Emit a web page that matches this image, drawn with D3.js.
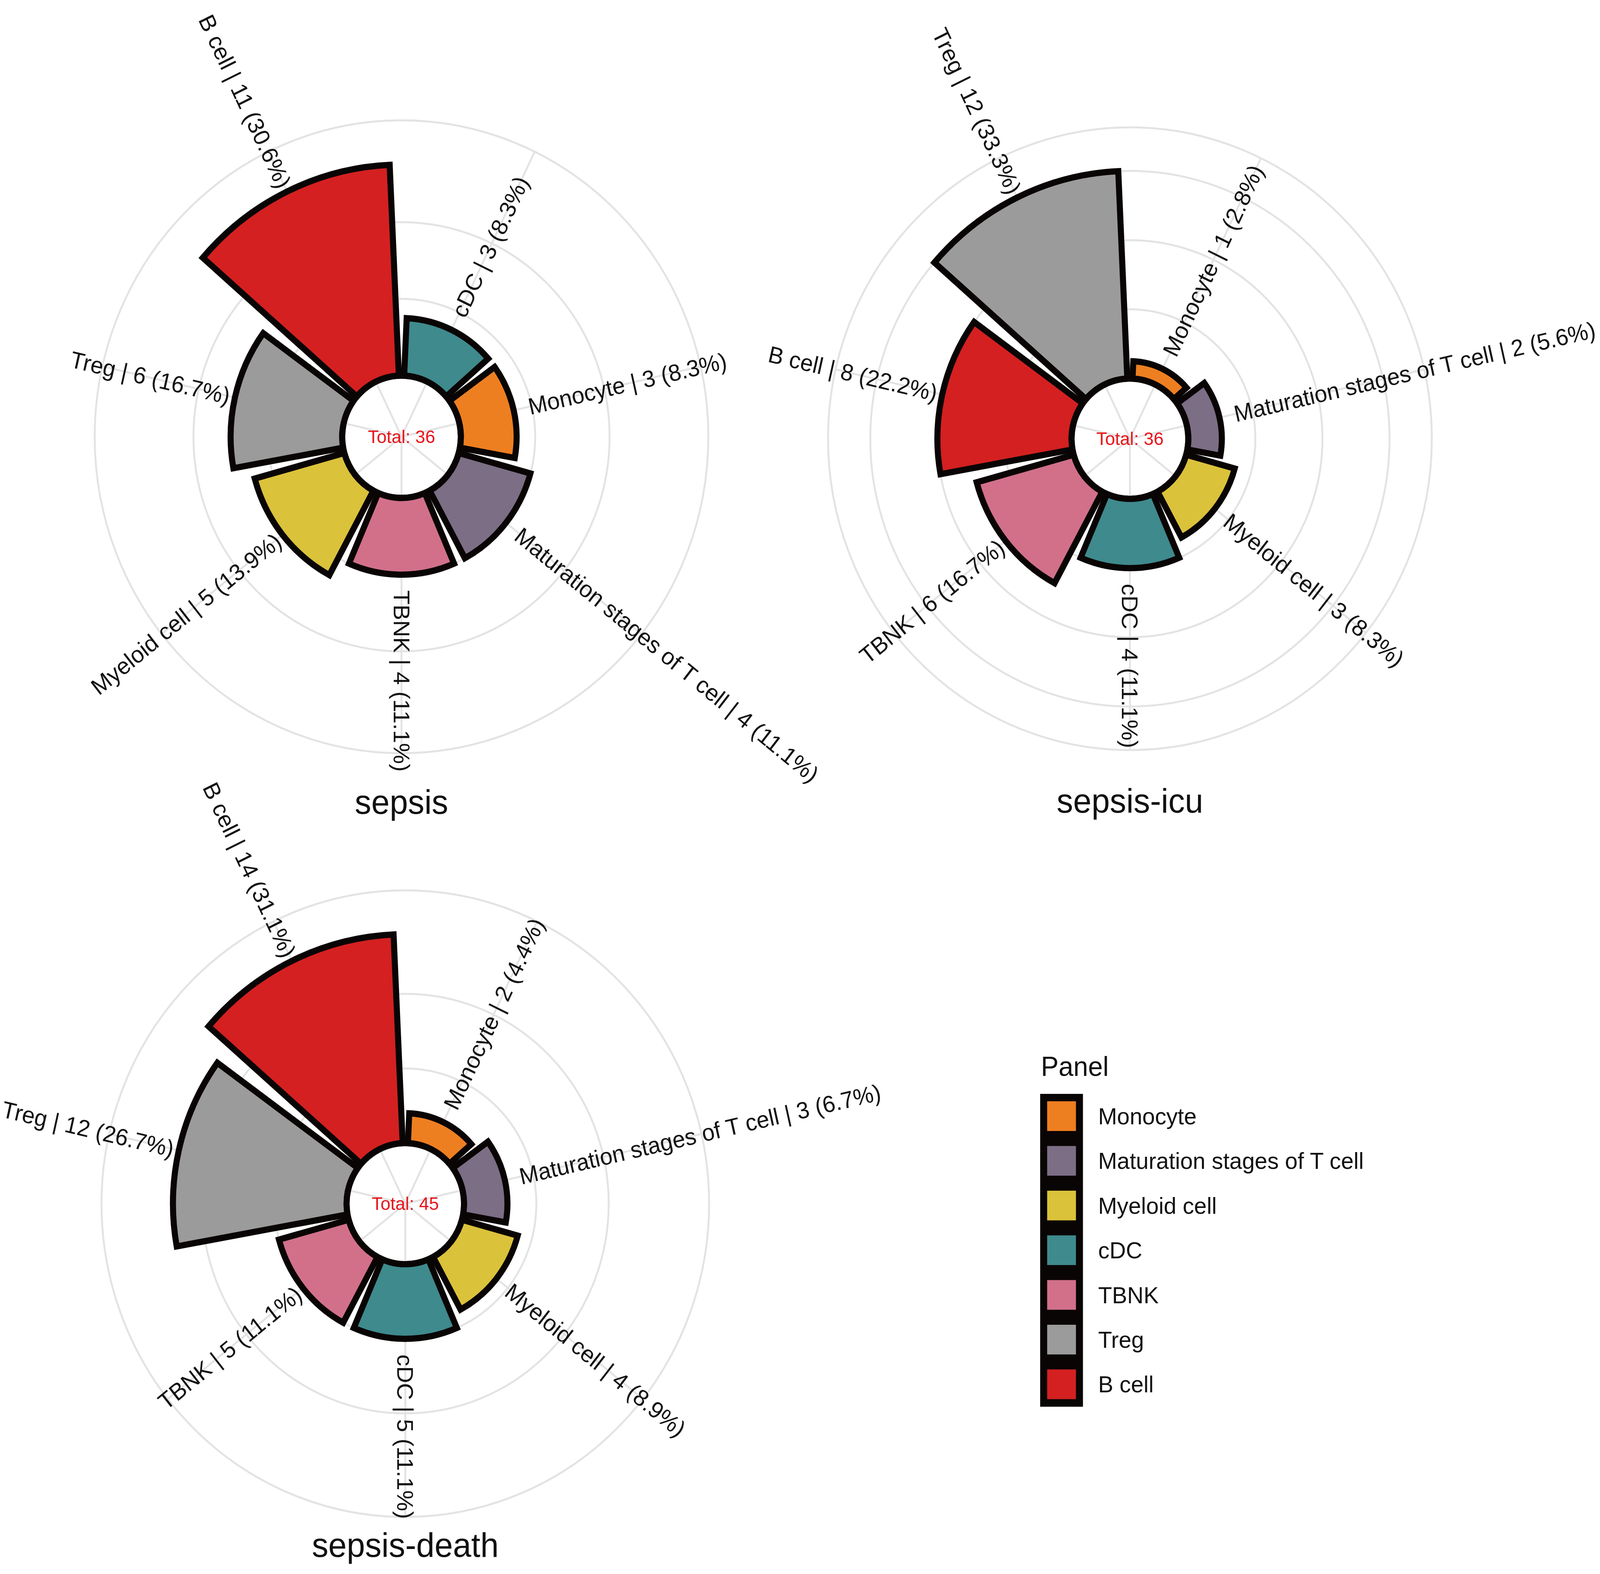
<!DOCTYPE html>
<html>
<head>
<meta charset="utf-8">
<script src="https://cdn.jsdelivr.net/npm/d3@7"></script>
<style>
  html, body { margin: 0; padding: 0; background: #fff; overflow: hidden; }
  #chart { display: block; width: 100vw; height: 100vh; }
  text { font-family: "Liberation Sans", Arial, Helvetica, sans-serif; }
</style>
</head>
<body>
<svg id="chart"></svg>
<script>
// Cell types and counts for each group, clockwise from 12 o'clock
var sepsisCells = ["cDC", "Monocyte", "Maturation stages of T cell", "TBNK", "Myeloid cell", "Treg", "B cell"];
var sepsisCounts = [3, 3, 4, 4, 5, 6, 11];
var sepsisTicks = [4, 8];

var icuCells = ["Monocyte", "Maturation stages of T cell", "Myeloid cell", "cDC", "TBNK", "B cell", "Treg"];
var icuCounts = [1, 2, 3, 4, 6, 8, 12];
var icuTicks = [4, 8, 12];

var deathCells = ["Monocyte", "Maturation stages of T cell", "Myeloid cell", "cDC", "TBNK", "Treg", "B cell"];
var deathCounts = [2, 3, 4, 5, 5, 12, 14];
var deathTicks = [5, 10];

// Legend entries
var legendCells = ["Monocyte", "Maturation stages of T cell", "Myeloid cell", "cDC", "TBNK", "Treg", "B cell"];
var legendColors = ["#ee7f21", "#7c6e85", "#dbc23b", "#3f8a8d", "#d2708a", "#9b9b9b", "#d42020"];

var width = 4224, height = 4029;

// the window is narrower than the figure, so stretch the drawing to fill it
var svg = d3.select("#chart")
  .attr("viewBox", "0 0 " + width + " " + height)
  .attr("preserveAspectRatio", "none");

svg.append("rect")
  .attr("width", width)
  .attr("height", height)
  .attr("fill", "#fff");

var colorScale = d3.scaleOrdinal()
  .domain(legendCells)
  .range(legendColors);

var gridColor = "#e3e3e3";

function drawPanel(title, cells, counts, ticks, cx, cy, R, titleY) {
  var total = d3.sum(counts);
  var maxCount = d3.max(counts);
  var data = cells.map(function(c, i) { return { cell: c, n: counts[i] }; });

  var g = svg.append("g")
    .attr("transform", "translate(" + cx + "," + cy + ")");

  // angle per category, radius linear in count with a hole in the middle
  var xScale = d3.scaleBand()
    .domain(cells)
    .range([0, 2 * Math.PI])
    .paddingInner(0.1)
    .paddingOuter(0.05);

  var yScale = d3.scaleLinear()
    .domain([-0.29 * maxCount, 1.21 * maxCount])
    .range([0, R]);

  function mid(d) { return xScale(d.cell) + xScale.bandwidth() / 2; }
  function isRight(d) { return mid(d) * 180 / Math.PI <= 180.01; }

  // grid circles
  g.selectAll(".grid")
    .data(ticks.concat([yScale.domain()[1]]))
    .enter().append("circle")
    .attr("r", function(d) { return yScale(d); })
    .attr("fill", "none")
    .attr("stroke", gridColor)
    .attr("stroke-width", 5);

  // spokes
  g.selectAll(".spoke")
    .data(data)
    .enter().append("line")
    .attr("x1", 0).attr("y1", 0)
    .attr("x2", function(d) { return R * Math.sin(mid(d)); })
    .attr("y2", function(d) { return -R * Math.cos(mid(d)); })
    .attr("stroke", gridColor)
    .attr("stroke-width", 5);

  // bars
  var arc = d3.arc()
    .innerRadius(yScale(0))
    .outerRadius(function(d) { return yScale(d.n); })
    .startAngle(function(d) { return xScale(d.cell); })
    .endAngle(function(d) { return xScale(d.cell) + xScale.bandwidth(); });

  g.selectAll(".bar")
    .data(data)
    .enter().append("path")
    .attr("d", arc)
    .attr("fill", function(d) { return colorScale(d.cell); })
    .attr("stroke", "#0a0505")
    .attr("stroke-width", 16)
    .attr("stroke-linejoin", "miter");

  // hole
  g.append("circle")
    .attr("r", yScale(0))
    .attr("fill", "none")
    .attr("stroke", "#0a0505")
    .attr("stroke-width", 16);

  g.append("text")
    .attr("text-anchor", "middle")
    .attr("dy", "0.35em")
    .attr("font-size", 47)
    .attr("fill", "#e8141b")
    .text("Total: " + total);

  // labels along the spokes
  g.selectAll(".label")
    .data(data)
    .enter().append("text")
    .attr("transform", function(d) {
      var a = mid(d) * 180 / Math.PI;
      var r = yScale(d.n) + (isRight(d) ? 40 : 14);
      var x = r * Math.sin(mid(d)), y = -r * Math.cos(mid(d));
      return "translate(" + x + "," + y + ") rotate(" + (isRight(d) ? a - 90 : a + 90) + ")";
    })
    .attr("text-anchor", function(d) { return isRight(d) ? "start" : "end"; })
    .attr("dy", "0.35em")
    .attr("font-size", 60)
    .attr("fill", "#111")
    .text(function(d) {
      return d.cell + " | " + d.n + " (" + (d.n / total * 100).toFixed(1) + "%)";
    });

  // panel title
  svg.append("text")
    .attr("x", cx)
    .attr("y", titleY)
    .attr("text-anchor", "middle")
    .attr("font-size", 87)
    .attr("fill", "#111")
    .text(title);
}

drawPanel("sepsis", sepsisCells, sepsisCounts, sepsisTicks, 1060, 1118, 810, 2083);
drawPanel("sepsis-icu", icuCells, icuCounts, icuTicks, 2983, 1123, 797, 2080);
drawPanel("sepsis-death", deathCells, deathCounts, deathTicks, 1070, 3081, 802, 3985);

// Legend
var legend = svg.append("g")
  .attr("transform", "translate(2746,2800)");

legend.append("text")
  .attr("x", 2)
  .attr("y", -46)
  .attr("font-size", 70)
  .attr("fill", "#111")
  .text("Panel");

legend.append("rect")
  .attr("width", 113)
  .attr("height", legendCells.length * 114.4)
  .attr("fill", "#0a0505");

var item = legend.selectAll(".legend")
  .data(legendCells)
  .enter().append("g")
  .attr("transform", function(d, i) { return "translate(0," + i * 114.4 + ")"; });

item.append("rect")
  .attr("x", 18.5)
  .attr("y", 19)
  .attr("width", 76)
  .attr("height", 76)
  .style("fill", colorScale);

item.append("text")
  .attr("x", 153)
  .attr("y", 57)
  .attr("dy", "0.35em")
  .attr("font-size", 60)
  .attr("fill", "#111")
  .text(function(d) { return d; });
</script>
</body>
</html>
